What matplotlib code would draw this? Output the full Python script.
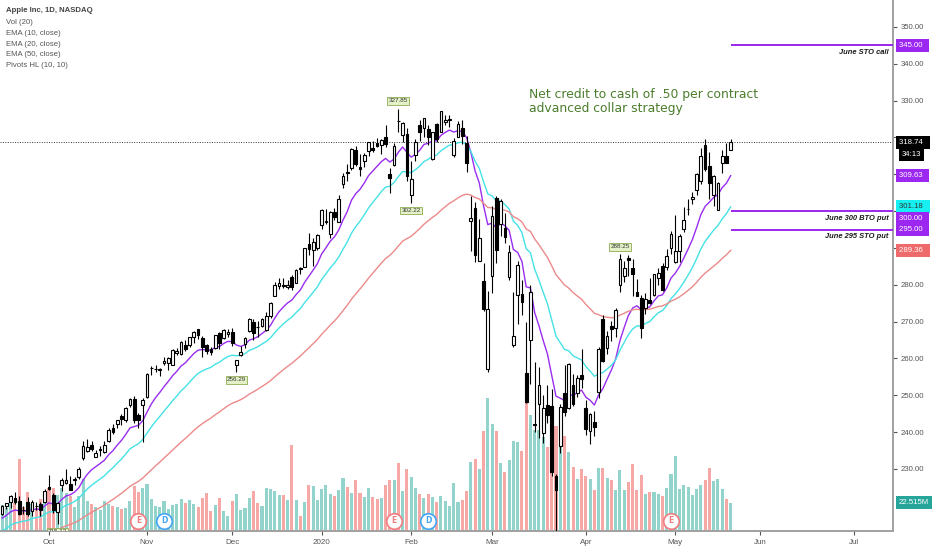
import matplotlib
matplotlib.use('Agg')
import matplotlib.pyplot as plt
import matplotlib.transforms as mtransforms
import numpy as np
import pandas as pd

# trading calendar: NASDAQ holidays inside the window
holidays = ['2019-11-28', '2019-12-25', '2020-01-01', '2020-01-20',
            '2020-02-17', '2020-04-10', '2020-05-25', '2020-07-03']
first_day = '2019-09-16'
last_day = '2020-07-31'

# daily bars, 2019-09-16 .. 2020-05-20
opens = [
    217.73, 219.96, 221.06, 222.01, 221.38, 218.95, 221.03, 218.55, 220.00, 220.54, 220.90,
    225.07, 223.06, 218.43, 225.64, 226.27, 225.82, 227.03, 227.93, 232.95, 234.90, 236.39, 233.37,
    235.09, 234.59, 237.52, 241.16, 242.10, 244.51, 243.16, 247.42, 248.97, 244.76, 247.24,
    249.54, 257.33, 257.05, 256.77, 258.74, 258.69, 258.30, 261.55, 261.13, 263.75, 263.68, 265.80,
    267.90, 265.54, 263.69, 262.59, 262.71, 266.94, 265.58, 266.60,
    267.27, 258.31, 261.07, 263.79, 267.48, 270.00, 268.60, 268.81, 267.78, 271.46, 277.00, 279.57,
    279.80, 279.50, 282.23, 280.53, 284.69, 284.82, 291.12, 289.46, 289.93,
    296.24, 297.15, 293.79, 299.84, 297.16, 307.24, 310.60, 311.64, 316.70, 311.85, 313.59, 316.27,
    317.19, 318.58, 317.92, 320.25, 310.06, 312.60, 324.45, 320.54, 320.93,
    304.30, 315.31, 323.52, 322.57, 322.37, 314.18, 323.60, 321.47, 324.19, 324.74, 315.36, 320.00,
    322.63, 318.62, 297.26, 300.95, 286.53, 281.10, 257.26,
    282.28, 303.67, 296.44, 295.52, 282.00, 263.75, 277.14, 277.39, 255.94, 264.89, 241.95, 247.51,
    239.77, 247.39, 247.18, 228.08, 236.36, 250.75, 246.52, 252.75, 250.74, 255.60,
    246.50, 240.34, 242.80, 250.90, 270.80, 262.74, 268.70, 268.31, 280.00, 282.40, 287.38, 284.69,
    277.95, 276.28, 273.61, 275.87, 277.20, 281.80, 285.08, 284.73, 289.96,
    286.25, 289.17, 295.06, 300.46, 303.22, 305.64, 308.10, 317.83, 312.15, 304.51, 300.35, 313.17,
    315.03, 316.68,
]
highs = [
    220.13, 220.82, 222.85, 223.76, 222.56, 219.84, 222.49, 221.50, 220.94, 220.96, 224.58,
    228.22, 223.58, 220.96, 227.49, 229.93, 228.06, 227.79, 230.44, 237.64, 238.13, 237.65, 235.24,
    236.15, 237.58, 240.99, 242.20, 243.24, 244.80, 246.73, 249.25, 249.75, 245.30, 249.17,
    255.93, 257.85, 258.19, 257.49, 260.35, 260.44, 262.47, 262.79, 264.78, 264.88, 265.78, 267.43,
    268.00, 266.08, 264.01, 263.18, 266.44, 267.16, 267.98, 268.00,
    268.25, 259.53, 263.31, 265.89, 271.00, 270.80, 270.07, 271.10, 272.56, 275.30, 280.79, 281.77,
    281.90, 281.18, 282.65, 284.25, 284.89, 289.98, 293.97, 292.69, 293.68,
    300.60, 300.58, 299.96, 300.90, 304.44, 310.43, 312.67, 317.07, 317.57, 315.50, 315.70, 318.74,
    319.02, 319.99, 319.56, 323.33, 311.77, 318.40, 327.85, 324.09, 322.68,
    313.49, 319.64, 324.76, 325.22, 323.40, 321.55, 323.90, 327.22, 326.22, 325.98, 319.75, 324.57,
    324.65, 320.45, 304.18, 302.53, 297.88, 286.00, 278.41,
    301.44, 304.00, 303.40, 299.55, 290.82, 278.09, 286.44, 281.22, 270.00, 279.92, 259.08, 257.61,
    250.00, 252.84, 251.83, 228.50, 247.69, 258.25, 258.68, 255.87, 255.52, 262.49,
    248.72, 245.15, 245.70, 263.11, 271.70, 267.37, 270.07, 273.70, 288.25, 286.33, 288.20, 286.95,
    281.68, 277.25, 277.90, 281.75, 283.01, 284.54, 285.83, 289.67, 294.53,
    299.00, 293.69, 301.00, 303.24, 305.17, 310.35, 317.05, 319.69, 315.95, 309.79, 307.90, 316.50,
    318.52, 319.52,
]
lows = [
    217.56, 219.12, 219.44, 220.37, 217.47, 217.65, 217.19, 217.14, 218.83, 217.28, 220.79,
    224.20, 217.93, 215.13, 223.89, 225.84, 224.33, 225.64, 227.30, 232.31, 234.67, 234.88, 233.20,
    233.52, 234.29, 237.32, 239.62, 241.22, 241.81, 242.88, 246.72, 242.57, 241.21, 237.26,
    249.16, 255.38, 256.32, 255.37, 258.11, 256.85, 258.28, 260.92, 261.07, 262.10, 263.01, 264.23,
    265.39, 260.40, 261.18, 260.84, 262.52, 262.50, 265.31, 265.90,
    263.45, 256.29, 260.68, 262.73, 267.30, 264.91, 265.86, 268.50, 267.32, 270.93, 276.98, 278.80,
    279.12, 278.95, 278.56, 280.37, 282.92, 284.70, 288.12, 285.22, 289.52,
    295.19, 296.50, 292.75, 297.48, 297.16, 306.20, 308.25, 311.15, 312.17, 309.55, 312.09, 315.00,
    316.00, 317.31, 315.65, 317.52, 304.88, 312.19, 321.38, 318.75, 308.29,
    302.22, 313.63, 318.95, 320.26, 318.00, 313.85, 318.71, 321.47, 323.35, 322.85, 314.61, 320.00,
    318.21, 310.50, 289.23, 286.13, 286.50, 272.96, 256.37,
    277.72, 285.80, 293.13, 291.41, 281.23, 263.00, 269.37, 271.86, 248.00, 252.95, 240.00, 238.40,
    237.12, 242.61, 228.00, 212.61, 234.30, 244.30, 246.36, 247.05, 249.40, 252.00,
    239.13, 236.90, 238.97, 249.38, 259.00, 261.23, 264.70, 265.83, 278.05, 280.63, 282.35, 276.86,
    276.85, 265.43, 272.20, 274.87, 277.00, 279.95, 278.20, 283.89, 288.35,
    285.85, 286.32, 294.46, 298.87, 301.97, 304.29, 307.24, 310.91, 303.21, 301.53, 300.21, 310.32,
    313.01, 316.52,
]
closes = [
    219.90, 220.70, 222.77, 220.96, 217.73, 218.72, 217.68, 221.03, 219.89, 218.82, 223.97,
    224.59, 218.96, 220.82, 227.01, 227.06, 224.40, 227.03, 230.09, 236.21, 235.87, 235.32, 234.37,
    235.28, 236.41, 240.51, 239.96, 243.18, 243.58, 246.58, 249.05, 243.29, 243.26, 248.76,
    255.82, 257.50, 257.13, 257.24, 259.43, 260.14, 262.20, 261.96, 264.47, 262.64, 265.76, 267.10,
    266.29, 263.19, 262.01, 261.78, 266.37, 264.29, 267.84, 267.25,
    264.16, 259.45, 261.74, 265.58, 270.71, 266.92, 268.48, 270.77, 271.46, 275.15, 279.86, 280.41,
    279.74, 280.02, 279.44, 284.00, 284.27, 289.91, 289.80, 291.52, 293.65,
    300.35, 297.43, 299.80, 298.39, 303.19, 309.63, 310.33, 316.96, 312.68, 311.34, 315.24, 318.73,
    316.57, 317.70, 319.23, 318.31, 308.95, 317.69, 324.34, 323.87, 309.51,
    308.66, 318.85, 321.45, 325.21, 320.03, 321.55, 319.61, 327.20, 324.87, 324.95, 319.00, 323.62,
    320.30, 313.05, 298.18, 288.08, 292.65, 273.52, 273.36,
    298.81, 289.32, 302.74, 292.92, 289.03, 266.17, 285.34, 275.43, 248.23, 277.97, 242.21, 252.86,
    246.67, 244.78, 229.24, 224.37, 246.88, 245.52, 258.44, 247.74, 254.81, 254.29,
    240.91, 244.93, 241.41, 262.47, 259.43, 266.07, 267.99, 273.25, 287.05, 284.43, 286.69, 282.80,
    276.93, 268.37, 276.10, 275.03, 282.97, 283.17, 278.58, 287.73, 293.80,
    289.07, 293.16, 297.56, 300.63, 303.74, 310.13, 315.01, 311.41, 307.65, 309.54, 307.71, 314.96,
    313.14, 318.74,
]
# volume in millions
volumes = [
    21.2, 18.4, 25.6, 22.2, 57.9, 19.4, 31.4, 22.0, 18.8, 25.4, 25.9,
    34.8, 34.6, 28.6, 34.6, 30.6, 27.9, 19.0, 28.3, 41.7, 24.1, 21.8, 19.3,
    17.0, 24.2, 21.8, 20.3, 18.9, 17.9, 18.4, 24.1, 35.7, 31.1, 34.8,
    38.0, 25.8, 19.9, 18.9, 23.7, 17.5, 20.5, 21.8, 25.8, 22.4, 25.1, 21.7,
    19.0, 26.6, 30.3, 16.3, 21.0, 26.3, 16.4, 11.7,
    23.7, 29.4, 16.8, 18.6, 26.5, 32.0, 22.6, 19.7, 34.3, 33.4, 32.1, 28.6,
    29.0, 24.6, 68.8, 24.6, 12.1, 23.3, 36.6, 36.0, 25.2,
    33.9, 36.6, 29.6, 27.9, 33.0, 42.5, 35.2, 30.4, 40.5, 30.5, 27.2, 34.5,
    27.2, 25.5, 26.1, 36.6, 40.5, 40.6, 54.1, 31.7, 49.9,
    43.5, 34.2, 29.7, 26.4, 29.4, 27.3, 23.6, 28.4, 23.7, 20.0, 38.1, 23.5,
    25.1, 32.4, 55.5, 57.7, 49.5, 80.2, 106.7,
    85.3, 79.9, 54.8, 46.9, 56.5, 71.7, 71.3, 64.1, 104.6, 92.7, 80.6, 81.0,
    75.1, 67.6, 100.4, 84.2, 71.9, 75.9, 63.0, 51.1, 41.9, 49.3,
    44.1, 41.5, 32.5, 50.5, 50.7, 42.2, 40.5, 32.8, 48.7, 32.8, 39.3, 53.8,
    32.5, 45.2, 29.3, 31.2, 31.6, 29.3, 28.0, 34.3, 45.8,
    60.2, 33.4, 36.9, 35.6, 28.8, 33.5, 36.5, 40.6, 50.2, 39.7, 41.6, 33.8,
    25.4, 22.5,
]
# closes before the visible window, only to warm up the EMAs
warmup_closes = [
    201.55, 202.73, 204.41, 204.23, 200.02, 201.24, 203.23, 201.75, 203.30, 205.21, 204.50,
    203.35, 205.66, 202.59, 207.22, 208.84, 208.67, 207.02, 207.74, 209.68, 208.78, 213.04,
    208.43, 204.02, 193.34, 197.00, 199.04, 203.43, 200.99, 200.48, 208.97, 202.75, 201.74,
    206.50, 210.35, 210.36, 212.64, 212.46, 202.64, 206.49, 204.16, 205.53, 209.01, 208.74,
    205.70, 209.19, 213.28, 213.26, 214.17, 216.70, 223.59, 223.09, 218.75,
]

ema_spans = [10, 20, 50]
ema_last = [309.63, 301.18, 289.36]
last_volume = '22.515M'
countdown = '34:13'

pivot_dates = ['2019-10-03', '2019-12-03', '2020-01-29', '2020-02-03', '2020-04-14']
pivot_kinds = ['low', 'low', 'high', 'low', 'high']
earnings_dates = ['2019-10-30', '2020-01-28', '2020-04-30']
dividend_dates = ['2019-11-07', '2020-02-07']

option_prices = [345.0, 300.0, 295.0]
option_labels = ['June STO call', 'June 300 BTO put', 'June 295 STO put']

month_labels = ['Oct', 'Nov', 'Dec', '2020', 'Feb', 'Mar', 'Apr', 'May', 'Jun', 'Jul']
legend_lines = ['Vol (20)', 'EMA (10, close)', 'EMA (20, close)', 'EMA (50, close)', 'Pivots HL (10, 10)']

# ---------------------------------------------------------------
days = pd.bdate_range(first_day, last_day, freq='C', holidays=holidays)
pos = pd.Series(np.arange(len(days)), index=days)
n = len(closes)
x = np.arange(n)
o, h, l, c = map(np.array, (opens, highs, lows, closes))
up = c >= o

all_closes = pd.Series(warmup_closes + closes)
emas = [all_closes.ewm(span=s, adjust=False).mean().values[-n:] for s in ema_spans]
ema_colors = ['#9a2cf0', '#44e2e6', '#ec8a8a']
tag_colors = ['#9c27f0', '#16f0f0', '#ef6b6b']

PURPLE = '#9c27f0'
GREY = '#555555'
SMALL = 'Liberation Sans'

fig = plt.figure(figsize=(9.32, 5.5), dpi=100)
rect = [0, 19 / 550, 893 / 932, 531 / 550]
ax_vol = fig.add_axes(rect)
ax = fig.add_axes(rect)
ax.patch.set_alpha(0)

xlim = (-0.5, 209.1)
ax.set_xlim(*xlim)
ax_vol.set_xlim(*xlim)
ax.set_ylim(213.15, 357.33)

# volume
ax_vol.bar(x, volumes, width=0.72, color=np.where(up, '#92d3cb', '#f5a8a5'))
ax_vol.set_ylim(0, 425)
ax_vol.axis('off')

# EMAs
for e, col in zip(emas, ema_colors):
    ax.plot(x, e, color=col, lw=1.0, zorder=2)

# candles: hollow up, black down
ax.vlines(x, l, h, color='black', lw=0.8, zorder=3)
bottom = np.minimum(o, c)
height = np.maximum(np.abs(c - o), 0.15)
ax.bar(x[up], height[up], bottom=bottom[up], width=0.64, color='white',
       edgecolor='black', linewidth=0.8, zorder=4)
ax.bar(x[~up], height[~up], bottom=bottom[~up], width=0.64, color='black',
       edgecolor='black', linewidth=0.8, zorder=4)

# last price dotted line
ax.axhline(closes[-1], color='#333333', lw=0.7, ls=(0, (1, 1.5)), zorder=1)

# option strike lines
ax.hlines(option_prices, n - 1, xlim[1], color=PURPLE, lw=1.4, zorder=5)
bt = mtransforms.blended_transform_factory(ax.transAxes, ax.transData)
for p, lab in zip(option_prices, option_labels):
    ax.annotate(lab, xy=(1, p), xycoords=bt, xytext=(-3, -5.2), textcoords='offset points',
                ha='right', va='center', fontsize=5.4, style='italic', fontweight='bold',
                family=SMALL, color='#1a1a1a', zorder=6)


def price_tag(axis, y, text, fc, tc='white', dy=0.0, dx=4.0):
    tr = mtransforms.blended_transform_factory(axis.transAxes, axis.transData)
    axis.annotate(text, xy=(1, y), xycoords=tr, xytext=(dx, dy), textcoords='offset points',
                  ha='left', va='center', fontsize=5.6, color=tc, zorder=10,
                  family=SMALL, annotation_clip=False,
                  bbox=dict(boxstyle='square,pad=0.38', fc=fc, ec='none'))


price_tag(ax, option_prices[0], f'{option_prices[0]:.2f}  ', PURPLE)
price_tag(ax, closes[-1], f'{closes[-1]:.2f}  ', 'black')
price_tag(ax, closes[-1], countdown, 'black', dy=-9, dx=6.5)
price_tag(ax, ema_last[0], f'{ema_last[0]:.2f}  ', tag_colors[0])
price_tag(ax, ema_last[1], f'{ema_last[1]:.2f}  ', tag_colors[1], tc='#333333')
price_tag(ax, option_prices[1], f'{option_prices[1]:.2f}  ', PURPLE, dy=-5.5)
price_tag(ax, option_prices[2], f'{option_prices[2]:.2f}  ', PURPLE)
price_tag(ax, ema_last[2], f'{ema_last[2]:.2f}  ', tag_colors[2])
price_tag(ax_vol, volumes[-1], last_volume, '#26a69a')

# pivots HL labels
for d, kind in zip(pivot_dates, pivot_kinds):
    i = pos[pd.Timestamp(d)]
    val = highs[i] if kind == 'high' else lows[i]
    off = 5.5 if kind == 'high' else -5.5
    ax.annotate(f'{val:.2f}', xy=(i, val), xytext=(0, off), textcoords='offset points',
                ha='center', va='center', fontsize=4.5, color='#333333', zorder=7,
                family=SMALL, clip_on=True,
                bbox=dict(boxstyle='square,pad=0.2', fc='#e4f1c8', ec='#8fab52', lw=0.6))

# earnings / dividend markers
bx = mtransforms.blended_transform_factory(ax.transData, ax.transAxes)
for dates, letter, col in [(earnings_dates, 'E', '#f07c80'), (dividend_dates, 'D', '#42a5f5')]:
    for d in dates:
        i = pos[pd.Timestamp(d)]
        ax.scatter([i], [0.019], transform=bx, s=125, facecolor='white', edgecolor=col,
                   linewidth=1.2, zorder=8, clip_on=False)
        ax.text(i, 0.019, letter, transform=bx, ha='center', va='center', fontsize=5.5,
                color=col, zorder=9, fontweight='bold')

# axes styling: right price scale, tick labels under the tags are covered
yt = np.arange(230, 351, 10)
tag_values = [closes[-1]] + ema_last + option_prices
ylabels = ['' if min(abs(v - t) for t in tag_values) < 3.5 else f'{v:.2f}' for v in yt]
ax.yaxis.tick_right()
ax.set_yticks(yt)
ax.set_yticklabels(ylabels, family=SMALL)
ax.tick_params(axis='y', labelsize=5.6, colors=GREY, length=3, pad=2.5)
month_starts = pd.date_range('2019-10-01', '2020-07-01', freq='MS')
tick_pos = [pos[days[days >= m][0]] for m in month_starts]
ax.set_xticks(tick_pos)
ax.set_xticklabels(month_labels, family=SMALL)
ax.tick_params(axis='x', labelsize=5.8, colors=GREY, length=3, pad=2.5)
for s in ['top', 'left']:
    ax.spines[s].set_visible(False)
for s in ['right', 'bottom']:
    ax.spines[s].set_color('#a0a0a0')
    ax.spines[s].set_linewidth(1.4)

# header / legend
fig.text(0.006, 1 - 11 / 550, 'Apple Inc, 1D, NASDAQ', fontsize=5.6, fontweight='bold',
         color='#444444', va='center', family=SMALL)
for k, t in enumerate(legend_lines):
    fig.text(0.006, 1 - (22.5 + 10.8 * k) / 550, t, fontsize=5.6, color='#555555',
             va='center', family=SMALL)

# note
ax.text(123.7, 329.7, 'Net credit to cash of .50 per contract\nadvanced collar strategy',
        fontsize=8.9, color='#4b7d2d', ha='left', va='center', linespacing=1.1, zorder=6)

fig.savefig('out.png', dpi=100, facecolor='white')
